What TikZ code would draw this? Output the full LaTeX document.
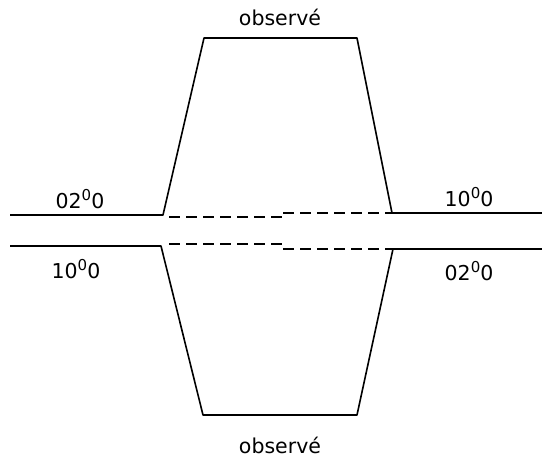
\documentclass[tikz,border=0pt]{standalone}
\usepackage{fontspec}
\setmainfont{DejaVu Sans}
\usetikzlibrary{positioning}
\newcommand{\supz}{\raisebox{0.42em}{\fontsize{15}{15}\selectfont 0}}

\begin{document}
\begin{tikzpicture}[
    x=1pt, y=-1pt,
    level/.style={line width=1.6pt, line join=round},
    link/.style={line width=1.5pt, dash pattern=on 11pt off 6pt},
    lab/.style={font=\fontsize{20.5}{22}\selectfont, inner sep=1pt}
  ]
    \useasboundingbox (0,0) rectangle (542,461);

    % Upper branch
    \coordinate (ua) at (10,215);
    \coordinate (ub) at (163,215);
    \coordinate (uc) at (204,38);
    \coordinate (ud) at (357,38);
    \coordinate (ue) at (392,213);
    \coordinate (uf) at (542,213);
    \draw[level] (ua) -- (ub) -- (uc) -- (ud) -- (ue) -- (uf);

    % Lower branch
    \coordinate (la) at (10,246);
    \coordinate (lb) at (161,246);
    \coordinate (lc) at (203,415);
    \coordinate (ld) at (357,415);
    \coordinate (le) at (393,249);
    \coordinate (lf) at (542,249);
    \draw[level] (la) -- (lb) -- (lc) -- (ld) -- (le) -- (lf);

    % Unperturbed levels (dashed)
    \coordinate (um) at (285,217);
    \coordinate (un) at (283,213);
    \coordinate (lm) at (288,244);
    \coordinate (ln) at (283,249);
    \draw[link] ([xshift=6pt]ub |- um) -- (um);
    \draw[link] (un) -- (ue);
    \draw[link] ([xshift=8pt]lb |- lm) -- (lm);
    \draw[link] (ln) -- (le);

    % Labels
    \node[lab] (tobs) at (280,17) {observé};
    \node[lab] (bobs) at (280,445) {observé};
    \node[lab] (ul) at (80,199) {02\supz0};
    \node[lab] (ll) at (76,269) {10\supz0};
    \node[lab] (ur) at (469,197) {10\supz0};
    \node[lab] (lr) at (469,271) {02\supz0};
  \end{tikzpicture}
\end{document}
